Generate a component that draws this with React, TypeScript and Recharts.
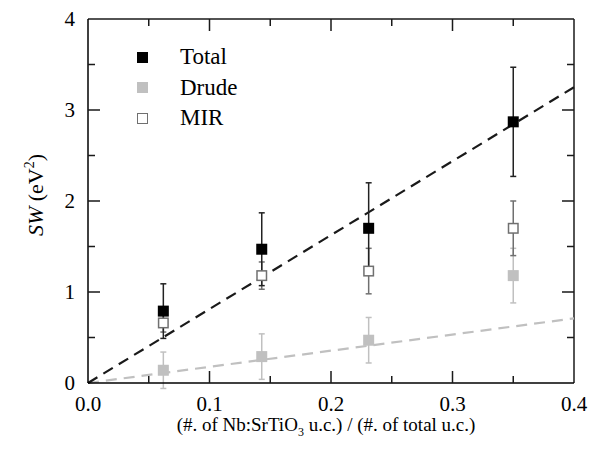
import React from 'react';
import {
  ComposedChart,
  Scatter,
  XAxis,
  YAxis,
  ErrorBar,
  ReferenceLine,
  Label,
} from 'recharts';

// fraction of Nb:SrTiO3 unit cells
const fractions = [0.062, 0.143, 0.231, 0.35];

const totalSW = [0.79, 1.47, 1.7, 2.87];
const totalErr = [0.3, 0.4, 0.5, 0.6];
const drudeSW = [0.14, 0.29, 0.47, 1.18];
const drudeErr = [0.2, 0.25, 0.25, 0.3];
const mirSW = [0.66, 1.18, 1.23, 1.7];
const mirErr = [0.1, 0.15, 0.25, 0.3];

// linear fits through origin
const fitX = [0, 0.4];
const fitTotal = [0, 3.25];
const fitDrude = [0, 0.71];

const xMajor = [0, 0.1, 0.2, 0.3, 0.4];
const xMinor = [0.05, 0.15, 0.25, 0.35];
const yMajor = [0, 1, 2, 3, 4];
const yMinor = [0.5, 1.5, 2.5, 3.5];

const X_MIN = 0;
const X_MAX = 0.4;
const Y_MIN = 0;
const Y_MAX = 4;

const FONT = "'Liberation Serif', 'Times New Roman', serif";
const BLACK = '#000000';
const FRAME = '#1a1a1a';
const LIGHT = '#c0c0c0';
const MID = '#707070';

const toPoints = (vals: number[], errs: number[]) =>
  fractions.map((x, i) => ({ x, y: vals[i], err: errs[i] }));

const totalData = toPoints(totalSW, totalErr);
const drudeData = toPoints(drudeSW, drudeErr);
const mirData = toPoints(mirSW, mirErr);

const inner = (arr: number[], lo: number, hi: number) => arr.filter((v) => v > lo && v < hi);

// inward tick marks on all four sides, placed by the axis scales
const xTicks = [
  ...inner(xMajor, X_MIN, X_MAX).map((t) => ({ t, major: true })),
  ...xMinor.map((t) => ({ t, major: false })),
];
const yTicks = [
  ...inner(yMajor, Y_MIN, Y_MAX).map((t) => ({ t, major: true })),
  ...yMinor.map((t) => ({ t, major: false })),
];
const tickPoints = [
  ...xTicks.map(({ t, major }) => ({ x: t, y: Y_MIN, side: 'b', major })),
  ...xTicks.map(({ t, major }) => ({ x: t, y: Y_MAX, side: 't', major })),
  ...yTicks.map(({ t, major }) => ({ x: X_MIN, y: t, side: 'l', major })),
  ...yTicks.map(({ t, major }) => ({ x: X_MAX, y: t, side: 'r', major })),
];

const tickShape = (props: any) => {
  const { cx, cy } = props;
  const p = props.payload || props;
  if (cx == null || cy == null) return <g />;
  const len = p.major ? 12 : 7;
  const w = 1.5;
  let r = { x: cx - w / 2, y: cy - len, width: w, height: len };
  if (p.side === 't') r = { x: cx - w / 2, y: cy, width: w, height: len };
  if (p.side === 'l') r = { x: cx, y: cy - w / 2, width: len, height: w };
  if (p.side === 'r') r = { x: cx - len, y: cy - w / 2, width: len, height: w };
  return <rect {...r} fill={FRAME} />;
};

const squareShape = (fill: string, stroke: string) => (props: any) => {
  const { cx, cy } = props;
  if (cx == null || cy == null) return <g />;
  const s = 11;
  return (
    <rect
      x={cx - s / 2 + 0.75}
      y={cy - s / 2 + 0.75}
      width={s - 1.5}
      height={s - 1.5}
      fill={fill}
      stroke={stroke}
      strokeWidth={1.5}
    />
  );
};

const axisLineStyle = { stroke: BLACK, strokeWidth: 1.5 };
const labelStyle = { fontSize: 21, fontFamily: FONT, fill: BLACK };

const legendItems = [
  { name: 'Total', fill: BLACK, stroke: BLACK },
  { name: 'Drude', fill: LIGHT, stroke: LIGHT },
  { name: 'MIR', fill: '#ffffff', stroke: MID },
];

export default function App() {
  return (
    <div style={{ position: 'absolute', left: 0, top: 0, width: 609, height: 453, background: '#fff' }}>
      <ComposedChart
        width={609}
        height={453}
        margin={{ top: 19, right: 35, bottom: 20, left: 28 }}
      >
        <XAxis
          xAxisId="b"
          type="number"
          dataKey="x"
          domain={[X_MIN, X_MAX]}
          ticks={xMajor}
          interval={0}
          height={50}
          tickSize={0}
          tickMargin={13}
          tick={labelStyle}
          tickFormatter={(v: number) => v.toFixed(1)}
          tickLine={false}
          axisLine={axisLineStyle}
          allowDataOverflow
        >
          <Label
            content={(p: any) => {
              const vb = p.viewBox;
              const cx = vb.x + vb.width / 2 - 5;
              return (
                <text x={cx} y={vb.y + 48} textAnchor="middle" fontFamily={FONT} fontSize={19} fill={BLACK}>
                  <tspan>(#. of Nb:SrTiO</tspan>
                  <tspan fontSize={12} dy={5}>3</tspan>
                  <tspan dy={-5}> u.c.) / (#. of total u.c.)</tspan>
                </text>
              );
            }}
          />
        </XAxis>
        <YAxis
          yAxisId="l"
          type="number"
          domain={[Y_MIN, Y_MAX]}
          ticks={yMajor}
          interval={0}
          width={60}
          tickSize={0}
          tickMargin={13}
          tick={labelStyle}
          tickLine={false}
          axisLine={axisLineStyle}
          allowDataOverflow
        >
          <Label
            content={(p: any) => {
              const vb = p.viewBox;
              const cx = 43;
              const cy = vb.y + vb.height / 2 - 6;
              return (
                <text
                  x={cx}
                  y={cy}
                  transform={`rotate(-90 ${cx} ${cy})`}
                  textAnchor="middle"
                  fontFamily={FONT}
                  fontSize={22}
                  fill={BLACK}
                >
                  <tspan fontStyle="italic">SW</tspan>
                  <tspan> (eV</tspan>
                  <tspan fontSize={14} dy={-9}>2</tspan>
                  <tspan dy={9}>)</tspan>
                </text>
              );
            }}
          />
        </YAxis>

        {/* top and right edges of the frame */}
        <ReferenceLine xAxisId="b" yAxisId="l" y={Y_MAX} stroke={FRAME} strokeWidth={1.5} ifOverflow="visible" />
        <ReferenceLine xAxisId="b" yAxisId="l" x={X_MAX} stroke={FRAME} strokeWidth={1.5} ifOverflow="visible" />

        <ReferenceLine
          xAxisId="b"
          yAxisId="l"
          segment={[
            { x: fitX[0], y: fitDrude[0] },
            { x: fitX[1], y: fitDrude[1] },
          ]}
          stroke={LIGHT}
          strokeWidth={2.2}
          strokeDasharray="11 7"
        />
        <ReferenceLine
          xAxisId="b"
          yAxisId="l"
          segment={[
            { x: fitX[0], y: fitTotal[0] },
            { x: fitX[1], y: fitTotal[1] },
          ]}
          stroke="#1a1a1a"
          strokeWidth={2.2}
          strokeDasharray="11 7"
        />

        <Scatter
          data={tickPoints}
          xAxisId="b"
          yAxisId="l"
          dataKey="y"
          shape={tickShape}
          isAnimationActive={false}
        />

        <Scatter
          name="Drude"
          data={drudeData}
          xAxisId="b"
          yAxisId="l"
          dataKey="y"
          shape={squareShape(LIGHT, LIGHT)}
          isAnimationActive={false}
        >
          <ErrorBar dataKey="err" direction="y" width={3} stroke={LIGHT} strokeWidth={1.5} />
        </Scatter>
        <Scatter
          name="MIR"
          data={mirData}
          xAxisId="b"
          yAxisId="l"
          dataKey="y"
          shape={squareShape('#ffffff', MID)}
          isAnimationActive={false}
        >
          <ErrorBar dataKey="err" direction="y" width={3} stroke={MID} strokeWidth={1.5} />
        </Scatter>
        <Scatter
          name="Total"
          data={totalData}
          xAxisId="b"
          yAxisId="l"
          dataKey="y"
          shape={squareShape(BLACK, BLACK)}
          isAnimationActive={false}
        >
          <ErrorBar dataKey="err" direction="y" width={3} stroke="#222" strokeWidth={1.5} />
        </Scatter>
      </ComposedChart>

      <div style={{ position: 'absolute', left: 137, top: 42, fontFamily: FONT, fontSize: 23, color: BLACK }}>
        {legendItems.map((it) => (
          <div key={it.name} style={{ display: 'flex', alignItems: 'center', height: 30.5 }}>
            <div
              style={{
                width: 11,
                height: 11,
                boxSizing: 'border-box',
                background: it.fill,
                border: `1.5px solid ${it.stroke}`,
              }}
            />
            <span style={{ marginLeft: 32, lineHeight: '30px' }}>{it.name}</span>
          </div>
        ))}
      </div>
    </div>
  );
}
